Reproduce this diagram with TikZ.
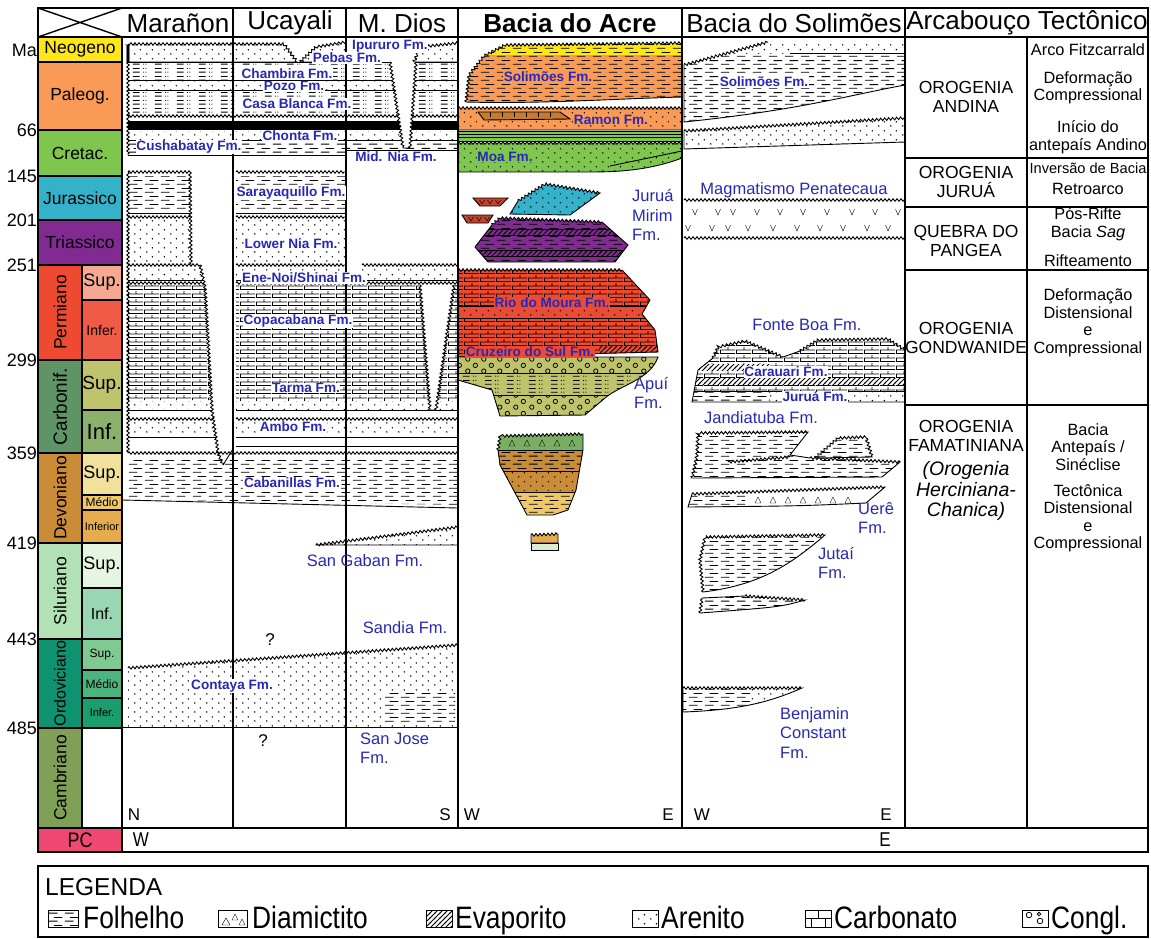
\documentclass[tikz,border=0pt]{standalone}
\usepackage{fontspec}
\setmainfont{Liberation Sans}
\newfontfamily\legfont[FakeStretch=0.85]{Liberation Sans}
\usetikzlibrary{patterns,decorations.pathmorphing}

\definecolor{neoC}{HTML}{FFE619}
\definecolor{paleoC}{HTML}{FA9A57}
\definecolor{cretC}{HTML}{7FC64E}
\definecolor{jurC}{HTML}{34B2C9}
\definecolor{triC}{HTML}{812B92}
\definecolor{permC}{HTML}{EE4A32}
\definecolor{permSupC}{HTML}{F6A893}
\definecolor{permInfC}{HTML}{EF5B47}
\definecolor{carbC}{HTML}{5E9466}
\definecolor{carbSupC}{HTML}{BFC36C}
\definecolor{carbInfC}{HTML}{8CB16C}
\definecolor{devC}{HTML}{CB8C37}
\definecolor{devSupC}{HTML}{F1E19D}
\definecolor{devMedC}{HTML}{F1C868}
\definecolor{devInfC}{HTML}{E5AC4D}
\definecolor{silC}{HTML}{B3E1B6}
\definecolor{silSupC}{HTML}{E6F5E1}
\definecolor{silInfC}{HTML}{99D7B3}
\definecolor{ordC}{HTML}{0E9270}
\definecolor{ordSupC}{HTML}{7FCA93}
\definecolor{ordMedC}{HTML}{4DB47E}
\definecolor{ordInfC}{HTML}{1A9D6F}
\definecolor{cambC}{HTML}{7FA056}
\definecolor{pcC}{HTML}{EE4873}
\definecolor{volcC}{HTML}{C0432B}
\definecolor{lensC}{HTML}{C77B30}
\definecolor{buckC}{HTML}{7AAE63}
\definecolor{paleGreenC}{HTML}{D6EED6}
\definecolor{fmBlue}{RGB}{40,40,180}

\pgfdeclarepatternformonly{sandPat}{\pgfpointorigin}{\pgfpoint{12pt}{9pt}}{\pgfpoint{12pt}{9pt}}{%
  \pgfpathcircle{\pgfpoint{3pt}{2.2pt}}{0.85pt}%
  \pgfpathcircle{\pgfpoint{9pt}{6.7pt}}{0.85pt}%
  \pgfusepath{fill}}
\pgfdeclarepatternformonly{shalePat}{\pgfpointorigin}{\pgfpoint{16pt}{8pt}}{\pgfpoint{16pt}{8pt}}{%
  \pgfsetlinewidth{0.9pt}%
  \pgfpathmoveto{\pgfpoint{1pt}{2pt}}\pgfpathlineto{\pgfpoint{10pt}{2pt}}%
  \pgfpathmoveto{\pgfpoint{6pt}{6pt}}\pgfpathlineto{\pgfpoint{15pt}{6pt}}%
  \pgfusepath{stroke}}
\pgfdeclarepatternformonly{carbPat}{\pgfpointorigin}{\pgfpoint{16pt}{8pt}}{\pgfpoint{16pt}{8pt}}{%
  \pgfsetlinewidth{0.8pt}%
  \pgfpathmoveto{\pgfpoint{0pt}{0.5pt}}\pgfpathlineto{\pgfpoint{16pt}{0.5pt}}%
  \pgfpathmoveto{\pgfpoint{0pt}{4.5pt}}\pgfpathlineto{\pgfpoint{16pt}{4.5pt}}%
  \pgfpathmoveto{\pgfpoint{0.5pt}{0.5pt}}\pgfpathlineto{\pgfpoint{0.5pt}{4.5pt}}%
  \pgfpathmoveto{\pgfpoint{8.5pt}{4.5pt}}\pgfpathlineto{\pgfpoint{8.5pt}{8pt}}%
  \pgfusepath{stroke}}
\pgfdeclarepatternformonly{conglPat}{\pgfpointorigin}{\pgfpoint{16pt}{12pt}}{\pgfpoint{16pt}{12pt}}{%
  \pgfsetlinewidth{0.8pt}%
  \pgfpathcircle{\pgfpoint{4pt}{3pt}}{2.3pt}%
  \pgfpathcircle{\pgfpoint{12pt}{9pt}}{2.3pt}%
  \pgfusepath{stroke}}
\pgfdeclarepatternformonly{evapPat}{\pgfpoint{-1pt}{-1pt}}{\pgfpoint{6pt}{6pt}}{\pgfpoint{5pt}{5pt}}{%
  \pgfsetlinewidth{0.9pt}%
  \pgfpathmoveto{\pgfpoint{-1pt}{-1pt}}\pgfpathlineto{\pgfpoint{6pt}{6pt}}%
  \pgfusepath{stroke}}
\pgfdeclarepatternformonly{shdotPat}{\pgfpointorigin}{\pgfpoint{22pt}{8pt}}{\pgfpoint{22pt}{8pt}}{%
  \pgfsetlinewidth{0.9pt}%
  \pgfpathmoveto{\pgfpoint{1pt}{2pt}}\pgfpathlineto{\pgfpoint{8pt}{2pt}}%
  \pgfpathmoveto{\pgfpoint{1pt}{6pt}}\pgfpathlineto{\pgfpoint{8pt}{6pt}}%
  \pgfusepath{stroke}%
  \pgfpathcircle{\pgfpoint{12pt}{2pt}}{0.6pt}\pgfpathcircle{\pgfpoint{14.5pt}{2pt}}{0.6pt}%
  \pgfpathcircle{\pgfpoint{12pt}{6pt}}{0.6pt}\pgfpathcircle{\pgfpoint{14.5pt}{6pt}}{0.6pt}%
  \pgfusepath{fill}}

\begin{document}
\begin{tikzpicture}
[x=1pt,y=-1pt,
  frame/.style={line width=1.8pt},
  grid/.style={line width=1.4pt},
  zz/.style={decoration={zigzag,segment length=4pt,amplitude=1.3pt}},
  wav/.style={zz,decorate},
  body/.style={draw,line width=0.9pt},
  hdr/.style={font=\fontsize{26}{28}\selectfont,inner sep=0pt},
  per/.style={font=\fontsize{17.5}{19}\selectfont,inner sep=0pt},
  age/.style={font=\fontsize{18}{20}\selectfont,inner sep=1pt,anchor=east},
  fmb/.style={text=fmBlue,font=\bfseries\fontsize{13.6}{14}\selectfont,inner sep=0.6pt,fill=white},
  fmr/.style={text=fmBlue,font=\fontsize{16.5}{19.5}\selectfont,inner sep=0pt,align=left},
  orog/.style={font=\fontsize{17.5}{18.5}\selectfont,align=center,inner sep=0pt},
  tect/.style={font=\fontsize{16.3}{17.5}\selectfont,align=center,inner sep=0pt},
  dir/.style={font=\fontsize{17}{19}\selectfont,inner sep=0pt},
  leg/.style={font=\legfont\fontsize{31}{33}\selectfont,inner sep=0pt,anchor=base west},
  icon/.style={draw,line width=1pt}]
\useasboundingbox (0,0) rectangle (1151,938);

\foreach \yA/\yB/\col/\txt [count=\i] in {37/62/neoC/Neogeno, 62/130/paleoC/Paleog.,
  130/176/cretC/Cretac., 176/220/jurC/Jurassico, 220/265/triC/Triassico}
{
  \draw[grid,fill=\col] (38,\yA) rectangle (122,\yB);
  \node[per] (per\i) at (80,{(\yA+\yB)/2}) {\txt};
}
\foreach \yA/\yB/\col/\txt/\fs [count=\i] in {265/360/permC/Permiano/17.5,
  360/453/carbC/Carbonif./19, 453/543/devC/Devoniano/17.5, 543/639/silC/Siluriano/17.5,
  639/728/ordC/Ordoviciano/16, 728/828/cambC/Cambriano/17.5}
{
  \draw[grid,fill=\col] (38,\yA) rectangle (82,\yB);
  \node[per,rotate=90,font=\fontsize{\fs}{\fs}\selectfont] (era\i) at (60,{(\yA+\yB)/2}) {\txt};
}
\foreach \yA/\yB/\col/\txt/\fs [count=\i] in {265/300/permSupC/Sup./18, 300/360/permInfC/Infer./14,
  360/410/carbSupC/Sup./19, 410/453/carbInfC/Inf./22, 453/495/devSupC/Sup./18,
  495/510/devMedC/Médio/12, 510/543/devInfC/Inferior/11, 543/588/silSupC/Sup./18,
  588/639/silInfC/Inf./16, 639/670/ordSupC/Sup./12, 670/698/ordMedC/Médio/12,
  698/728/ordInfC/Infer./11, 728/828/white/{}/12}
{
  \draw[grid,fill=\col] (82,\yA) rectangle (122,\yB);
  \node[per,font=\fontsize{\fs}{\fs}\selectfont] (sub\i) at (102,{(\yA+\yB)/2}) {\txt};
}
\foreach \y/\a in {50/Ma, 130/66, 176/145, 220/201, 265/251, 360/299, 453/359, 543/419, 639/443, 728/485}
  \node[age] (age\a) at (38,\y) {\a};

\draw[body,pattern=sandPat] (128,62) decorate[zz]{-- (128,44) -- (284,44) -- (297,62)} -- cycle;
\draw[body,pattern=sandPat] (300,62) decorate[zz]{-- (316,47) -- (346,42)} -- (346,62) -- cycle;
\draw[body,pattern=sandPat] (414,62) decorate[zz]{-- (420,47) -- (458,43)} -- (458,62) -- cycle;
\path[pattern=shdotPat] (128,62) rectangle (458,80);
\path[pattern=sandPat] (128,80) rectangle (458,90);
\path[pattern=shdotPat] (128,90) rectangle (458,113);
\fill (128,122) rectangle (458,130);
\path[pattern=sandPat] (128,131) rectangle (458,140);
\path[pattern=shalePat] (128,141) rectangle (346,155);
\path[pattern=shalePat] (346,141) rectangle (458,150);
\foreach \y in {62,80,90,121,140}
  \draw[body] (128,\y) -- (458,\y);
\draw[body,wav] (128,116) -- (458,116);
\draw[body] (128,155) -- (346,155) -- (346,150) -- (458,150);
\draw[body,wav] (128,44) -- (128,155);
\draw[body,fill=white] (390,62) decorate[zz]{-- (403,148)} -- (410,148) decorate[zz]{-- (416,62)};

\foreach \xA/\xB in {128/190, 236/345}
{
  \path[pattern=shalePat] (\xA,176) rectangle (\xB,211);
  \path[pattern=sandPat] (\xA,220) rectangle (\xB,261);
  \draw[body,wav] (\xA,172) -- (\xB,172);
  \draw[body] (\xA,213) -- (\xB,213);
  \draw[body,wav] (\xA,217) -- (\xB,217);
}
\path[pattern=sandPat] (128,268) -- (200,268) -- (203,280) -- (128,280) -- cycle;
\path[pattern=sandPat] (236,268) rectangle (458,280);
\path[pattern=carbPat] (128,285) -- (205,285) -- (211,400) -- (128,400) -- cycle;
\path[pattern=carbPat] (236,285) rectangle (458,400);
\path[pattern=sandPat] (128,401) -- (211,401) -- (212,409) -- (128,409) -- cycle;
\path[pattern=sandPat] (236,401) rectangle (458,409);
\path[pattern=sandPat] (128,421) -- (214,421) -- (215,435) -- (128,435) -- cycle;
\path[pattern=sandPat] (236,421) rectangle (458,435);
\fill[white] (347,264) rectangle (361,285);
\foreach \xA/\xB in {128/200, 236/345, 362/458}
  \draw[body,wav] (\xA,265) -- (\xB,265);
\foreach \y/\xB in {280/203, 410/212, 437/216}
{
  \draw[body] (128,\y) -- (\xB,\y);
  \draw[body] (236,\y) -- (458,\y);
}
\draw[body,wav] (128,283) -- (204,283);
\draw[body,wav] (236,283) -- (458,283);
\draw[body,wav] (128,419) -- (214,419);
\draw[body,wav] (236,419) -- (458,419);
\draw[body] (236,446) -- (458,446);
\draw[body,fill=white] (420,285) decorate[zz]{-- (430,410)} -- (436,410) decorate[zz]{-- (454,285)};
\draw[body,wav] (128,172) -- (128,453);
\draw[body,wav] (190,172) -- (191,265);
\draw[body,wav] (200,265) -- (205,287) -- (212,410) -- (218,453) -- (223,465);
\draw[body] (223,465) -- (233,449);

\path[pattern=shalePat] (128,457) -- (458,457) -- (458,505) -- (128,499) -- cycle;
\draw[body,wav] (128,453) -- (458,453);
\draw[body] (122,500) -- (458,508);
\draw[body,pattern=sandPat] (316,545) decorate[zz]{-- (458,527)} -- (458,545) -- cycle;
\path[pattern=sandPat] (128,727) -- (128,668) -- (458,645) -- (458,727) -- cycle;
\fill[white] (385,692) rectangle (455,724);
\path[pattern=shalePat] (385,692) rectangle (455,724);
\draw[body,wav] (128,668) -- (458,645);
\draw[body] (122,727) -- (458,727);

\def\acreSol{(466,102) decorate[zz]{-- (469,75) -- (484,56) -- (505,45) -- (682,43)} -- (682,97) .. controls (610,99) and (540,104) .. (466,102) -- cycle}
\begin{scope}
  \clip \acreSol;
  \fill[paleoC] (458,40) rectangle (682,105);
  \fill[neoC] (458,40) rectangle (682,55);
  \path[pattern=shalePat] (458,40) rectangle (682,105);
\end{scope}
\draw[body] \acreSol;
\draw[body,fill=paleoC] (458,130) -- (458,108) decorate[zz]{-- (682,108)} -- (682,130) -- cycle;
\path[pattern=sandPat] (458,110) rectangle (682,129);
\draw[body,fill=lensC] (478,112) -- (560,112) -- (570,119) -- (484,120) -- cycle;
\foreach \x in {490,502,...,560}
  \draw (\x,112) -- (\x,117);
\draw[body,fill=cretC] (458,131) rectangle (682,141);
\draw (458,134.5) -- (682,134.5) (458,137.5) -- (682,137.5);
\def\acreMoa{(458,172) -- (458,143) decorate[zz]{-- (682,143)} -- (682,158) .. controls (650,170) and (620,172) .. (590,172) -- cycle}
\draw[body,fill=cretC] \acreMoa;
\path[pattern=sandPat] \acreMoa;
\draw[body] (610,166) -- (682,151);
\def\acreJur{(510,214) -- (518,201) decorate[zz]{-- (545,184) -- (600,193)} -- (570,215) -- cycle}
\draw[body,fill=jurC] \acreJur;
\path[pattern=sandPat] \acreJur;
\draw[body,fill=volcC] (473,198) -- (508,198) -- (500,206) -- (480,206) -- cycle;
\draw[body,fill=volcC] (462,215) -- (493,215) -- (488,223) -- (467,223) -- cycle;
\foreach \x/\y in {482/200, 490/200, 498/200, 471/217, 479/217, 487/217}
  \draw (\x-2.5,\y) -- (\x,\y+4) -- (\x+2.5,\y);
\def\acreTri{(488,262) -- (475,247) -- (492,225) decorate[zz]{-- (500,218) -- (602,222)} -- (628,245) -- (615,262) -- cycle}
\begin{scope}
  \clip \acreTri;
  \fill[triC] (470,215) rectangle (635,265);
  \path[pattern=shalePat] (470,215) rectangle (635,265);
  \fill[triC] (470,229) rectangle (635,235);
  \path[pattern=evapPat] (470,229) rectangle (635,235);
  \fill[triC] (470,250) rectangle (635,256);
  \path[pattern=evapPat] (470,250) rectangle (635,256);
  \draw (470,229) -- (635,229) (470,235) -- (635,235) (470,250) -- (635,250) (470,256) -- (635,256);
\end{scope}
\draw[body] \acreTri;
\def\acrePerm{(458,357) -- (458,270) decorate[zz]{-- (622,270)} -- (650,300) -- (642,314) -- (655,330) -- (658,352) -- cycle}
\begin{scope}
  \clip \acrePerm;
  \fill[permC] (458,265) rectangle (660,360);
  \path[pattern=carbPat] (458,265) rectangle (660,360);
  \fill[permC] (458,306) rectangle (660,318);
  \path[pattern=sandPat] (458,306) rectangle (660,318);
  \draw (458,306) -- (660,306) (458,318) -- (660,318);
  \fill[permC] (600,346) rectangle (660,357);
  \path[pattern=evapPat] (600,346) rectangle (660,357);
\end{scope}
\draw[body] \acrePerm;
\def\acreCarb{(458,357) -- (658,357) .. controls (650,380) and (620,385) .. (605,398) -- (585,415) -- (500,416) -- (492,390) -- (458,380) -- cycle}
\begin{scope}
  \clip \acreCarb;
  \fill[carbSupC] (458,355) rectangle (660,420);
  \path[pattern=conglPat] (458,355) rectangle (660,372);
  \path[pattern=shdotPat] (458,374) rectangle (660,394);
  \path[pattern=conglPat] (458,396) rectangle (660,420);
  \draw (458,373) -- (660,373) (458,395) -- (660,395);
\end{scope}
\draw[body] \acreCarb;
\def\acreDev{(498,450) decorate[zz]{-- (500,436) -- (583,434)} -- (583,450) -- (576,490) -- (568,510) -- (553,515) -- (527,515) -- (520,502) -- (500,465) -- cycle}
\begin{scope}
  \clip \acreDev;
  \fill[buckC] (495,430) rectangle (590,450);
  \fill[devC] (495,450) rectangle (590,492);
  \fill[devMedC] (495,492) rectangle (590,520);
  \path[pattern=shalePat] (495,452) rectangle (590,470);
  \path[pattern=sandPat] (495,472) rectangle (590,490);
  \path[pattern=shalePat] (495,494) rectangle (590,520);
  \draw (495,450) -- (590,450) (495,471) -- (590,471) (495,492) -- (590,492);
\end{scope}
\draw[body] \acreDev;
\foreach \x in {512,527,542,557,572}
  \draw (\x-3,446) -- (\x,440) -- (\x+3,446) -- cycle;
\draw[body,fill=devInfC] (531,543) -- (531,535) decorate[zz]{-- (558,534)} -- (558,543) -- cycle;
\draw[body,fill=paleGreenC] (531,543) rectangle (558,550);

\def\solSol{(684,122) -- (684,65) decorate[zz]{-- (768,42)} -- (905,42) -- (905,85) .. controls (850,95) and (800,110) .. (684,122) -- cycle}
\begin{scope}
  \clip \solSol;
  \path[pattern=sandPat] (684,40) rectangle (905,53);
  \path[pattern=shalePat] (684,55) rectangle (905,125);
\end{scope}
\draw[body] (905,85) .. controls (850,95) and (800,110) .. (684,122) -- (684,65) decorate[zz]{-- (768,42)};
\draw[body] (790,53) -- (905,53);
\draw[body,pattern=sandPat] (684,149) -- (684,131) decorate[zz]{-- (905,118)} -- (905,142) -- cycle;
\draw[body,wav] (684,200) -- (905,200);
\draw[body,wav] (684,238) -- (905,238);
\foreach \x in {695,718,733,757,780,803,827,852,875,898}
  \draw (\x-2.5,209) -- (\x,215) -- (\x+2.5,209);
\foreach \x in {688,712,728,748,773,797,820,843,867,888}
  \draw (\x-2.5,225) -- (\x,231) -- (\x+2.5,225);
\def\solCar{(692,402) -- (698,370) -- (713,358) decorate[zz]{-- (718,347) -- (745,341) -- (783,357)} -- (800,351) decorate[zz]{-- (818,340) -- (888,339) -- (905,350)} -- (905,402) -- cycle}
\begin{scope}
  \clip \solCar;
  \path[pattern=carbPat] (690,335) rectangle (905,391);
  \fill[white] (700,364) rectangle (770,370);
  \path[pattern=evapPat] (700,364) rectangle (770,370);
  \fill[white] (690,378) rectangle (905,385);
  \path[pattern=evapPat] (690,378) rectangle (905,385);
  \fill[white] (690,391) rectangle (905,402);
  \path[pattern=sandPat] (770,391) rectangle (905,402);
  \path[pattern=shalePat] (690,392) rectangle (770,402);
  \draw (690,391) -- (905,391);
\end{scope}
\draw[body] \solCar;
\def\solJan{(692,478) decorate[zz]{-- (697,455) -- (698,433) -- (808,432)} -- (790,455) -- (810,458) decorate[zz]{-- (900,462)} -- (882,477) -- cycle}
\draw[body,fill=white] \solJan;
\path[pattern=shalePat] \solJan;
\draw[body] (728,462) decorate[zz]{-- (790,457)};
\def\solJanB{(815,458) decorate[zz]{-- (838,438) -- (866,437) -- (872,457)} -- cycle}
\draw[body,fill=white] \solJanB;
\path[pattern=shalePat] \solJanB;
\def\solUer{(688,507) -- (692,494) decorate[zz]{-- (885,487)} -- (866,503) .. controls (800,506) .. (688,507) -- cycle}
\draw[body,fill=white] \solUer;
\begin{scope}
  \clip \solUer;
  \path[pattern=shalePat] (688,485) rectangle (745,510);
\end{scope}
\foreach \x in {758,773,...,848}
  \draw (\x-3,503) -- (\x,497) -- (\x+3,503) -- cycle;
\def\solJutA{(703,592) decorate[zz]{-- (700,560) -- (705,537) -- (825,535)} .. controls (790,565) and (760,585) .. (703,592) -- cycle}
\draw[body,fill=white] \solJutA;
\path[pattern=shalePat] \solJutA;
\def\solJutB{(700,613) decorate[zz]{-- (702,598)} -- (745,596) decorate[zz]{-- (805,600)} .. controls (780,607) .. (700,613) -- cycle}
\draw[body,fill=white] \solJutB;
\path[pattern=shalePat] \solJutB;
\def\solBen{(683,712) -- (683,688) decorate[zz]{-- (802,688)} .. controls (770,702) and (740,710) .. (683,712) -- cycle}
\draw[body,fill=white] \solBen;
\begin{scope}
  \clip \solBen;
  \path[pattern=shalePat] (683,686) rectangle (750,715);
  \path[pattern=sandPat] (750,686) rectangle (805,715);
\end{scope}

\draw[grid] (122,37) -- (122,852);
\foreach \x in {233,346,458,682,905}
  \draw[grid] (\x,8) -- (\x,828);
\draw[grid] (1027,37) -- (1027,828);
\foreach \y in {158,207,270,405}
  \draw[grid] (905,\y) -- (1148,\y);
\draw[frame] (38,8) rectangle (1148,37);
\draw[frame] (38,37) rectangle (1148,828);
\draw[grid,fill=pcC] (38,828) rectangle (122,852);
\draw[frame] (38,828) rectangle (1148,852);
\draw[grid] (38,8) -- (122,37) (38,37) -- (122,8);

\node[hdr] (maranon) at (178,23) {Marañon};
\node[hdr] (ucayali) at (290,23) {Ucayali};
\node[hdr] (mdios) at (402,23) {M. Dios};
\node[hdr,font=\bfseries\fontsize{26}{28}\selectfont] (acre) at (570,23) {Bacia do Acre};
\node[hdr] (solimoes) at (794,23) {Bacia do Solimões};
\node[hdr] (arcabouco) at (1027,23) {Arcabouço Tectônico};

\foreach \x/\y/\txt/\bg [count=\i] in {390/46/Ipururo Fm./white, 347/58/Pebas Fm./white,
  287/74/Chambira Fm./white, 294/86/Pozo Fm./white, 297/104/Casa Blanca Fm./white,
  300/136/Chonta Fm./white, 189/147/Cushabatay Fm./white, 396/157/Mid. Nia Fm./white,
  291/193/Sarayaquillo Fm./white, 291/244/Lower Nia Fm./white,
  304/278/{Ene-Noi/Shinai Fm.}/white, 298/321/Copacabana Fm./white, 306/388/Tarma Fm./white,
  293/427/Ambo Fm./white, 292/483/Cabanillas Fm./white, 232/686/Contaya Fm./white,
  548/77/Solimões Fm./paleoC, 611/120/Ramon Fm./paleoC, 505/157/Moa Fm./cretC,
  552/303/Rio do Moura Fm./permC, 530/352/Cruzeiro do Sul Fm./permC,
  764/82/Solimões Fm./white, 786/372/Carauari Fm./white, 815/397/Juruá Fm./white}
  \node[fmb,fill=\bg] (fm\i) at (\x,\y) {\txt};

\node[fmr] (sanGaban) at (365,561) {San Gaban Fm.};
\node[fmr] (sandia) at (405,628) {Sandia Fm.};
\node[fmr,anchor=west] (sanJose) at (360,748) {San Jose\\Fm.};
\node[fmr,anchor=west] (juruaMirim) at (632,215) {Juruá\\Mirim\\Fm.};
\node[fmr,anchor=west] (apui) at (634,393) {Apuí\\Fm.};
\node[fmr] (penatecaua) at (794,190) {Magmatismo Penatecaua};
\node[fmr] (fonteBoa) at (807,325) {Fonte Boa Fm.};
\node[fmr] (jandiatuba) at (761,418) {Jandiatuba Fm.};
\node[fmr,anchor=west] (uere) at (858,518) {Uerê\\Fm.};
\node[fmr,anchor=west] (jutai) at (818,563) {Jutaí\\Fm.};
\node[fmr,anchor=west] (benjamin) at (780,733) {Benjamin\\Constant\\Fm.};
\node[dir] (q1) at (270,640) {?};
\node[dir] (q2) at (263,741) {?};

\foreach \x/\txt [count=\i] in {134/N, 445/S, 472/W, 668/E, 702/W, 886/E}
  \node[dir] (dir\i) at (\x,815) {\txt};
\node[dir,font=\legfont\fontsize{21}{22}\selectfont] (pc) at (80,840) {PC};
\node[dir,font=\legfont\fontsize{20}{21}\selectfont] (pcW) at (141,840) {W};
\node[dir,font=\legfont\fontsize{20}{21}\selectfont] (pcE) at (885,840) {E};

\node[orog] (andina) at (966,97) {OROGENIA\\ANDINA};
\node[orog] (jurua) at (966,182) {OROGENIA\\JURUÁ};
\node[orog] (pangea) at (966,241) {QUEBRA DO\\PANGEA};
\node[orog] (gondwanide) at (966,338) {OROGENIA\\GONDWANIDE};
\node[orog] (famatiniana) at (966,436) {OROGENIA\\FAMATINIANA};
\node[orog,font=\itshape\fontsize{19.5}{20.5}\selectfont] (herciniana) at (966,491) {(Orogenia\\Herciniana-\\Chanica)};
\foreach \y/\txt [count=\i] in {50/Arco Fitzcarrald, 88/Deformação\\Compressional,
  137/Início do\\antepaís Andino, 189/Retroarco,
  224/Pós-Rifte\\Bacia \textit{Sag}, 261/Rifteamento,
  323/Deformação\\Distensional\\e\\Compressional, 447/{Bacia\\Antepaís /\\Sinéclise},
  518/Tectônica\\Distensional\\e\\Compressional}
  \node[tect] (tect\i) at (1088,\y) {\txt};
\node[tect,font=\fontsize{14.6}{16}\selectfont] (inversao) at (1088,168) {Inversão de Bacia};

\draw[frame] (38,866) rectangle (1148,937);
\node[leg,font=\fontsize{24.5}{26}\selectfont] (legenda) at (45,895) {LEGENDA};
\draw[icon,pattern=shalePat] (48,910) rectangle (78,927);
\node[leg] (folhelho) at (83,928) {Folhelho};
\draw[icon] (218,910) rectangle (247,927);
\draw (222,925) -- (226,918) -- (230,925) -- cycle (232,920) -- (235,914) -- (238,920) -- cycle
  (239,925) -- (242,919) -- (245,925) -- cycle;
\node[leg] (diamictito) at (252,928) {Diamictito};
\draw[icon,pattern=evapPat] (426,910) rectangle (452,927);
\node[leg] (evaporito) at (455,928) {Evaporito};
\draw[icon,pattern=sandPat] (632,910) rectangle (658,927);
\node[leg] (arenito) at (661,928) {Arenito};
\draw[icon] (805,910) rectangle (831,927) (805,918.5) -- (831,918.5) (818,910) -- (818,918.5)
  (811,918.5) -- (811,927) (825,918.5) -- (825,927);
\node[leg] (carbonato) at (834,928) {Carbonato};
\draw[icon] (1022,910) rectangle (1048,927);
\draw[line width=0.8pt] (1029,915) circle (2.8) (1040,921) circle (2.8) (1039,914) circle (1.8);
\node[leg] (congl) at (1051,928) {Congl.};
\end{tikzpicture}
\end{document}
